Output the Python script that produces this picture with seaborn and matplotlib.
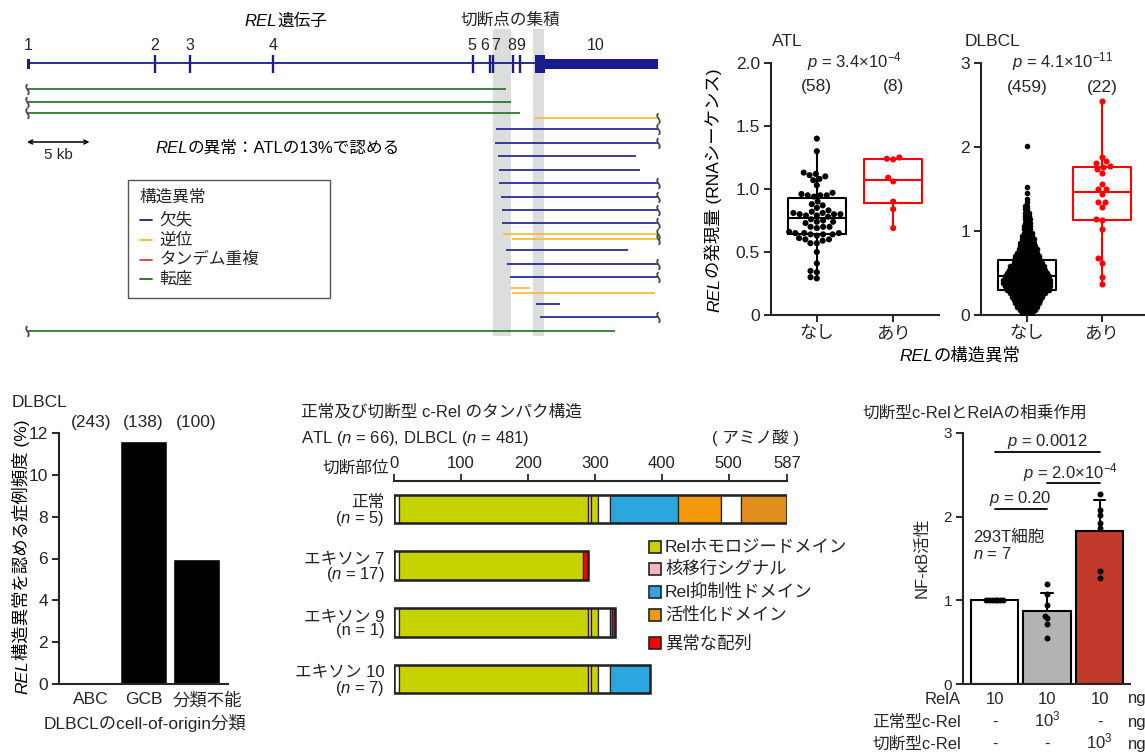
import numpy as np
import pandas as pd
import matplotlib
matplotlib.use("Agg")
import matplotlib.pyplot as plt
from matplotlib.patches import Rectangle
from matplotlib.path import Path
from matplotlib.transforms import offset_copy, blended_transform_factory, ScaledTranslation
import seaborn as sns

# ------------------------------------------------------------------ data
# REL gene model (kb from the start of exon 1)
exon_names = ["1", "2", "3", "4", "5", "6", "7", "8", "9", "10"]
exon_kb = [0.0, 10.2, 13.0, 19.7, 35.7, 37.0, 37.25, 38.9, 39.4, 40.6]
exon_label_kb = [0.1, 10.2, 13.0, 19.7, 35.6, 36.6, 37.5, 38.8, 39.5, 45.5]
exon1_end_kb = 0.25
exon10_cds_end_kb = 41.4
gene_end_kb = 50.5
cluster_kb = [(37.3, 38.75), (40.45, 41.35)]

# structural variants in ATL: lane, type, start/end (kb), open left / right end
sv_lane = [0, 1, 2, 2, 3, 4, 5, 6, 7, 8, 9, 10, 11, 11, 12, 13, 14, 15, 15, 16, 17, 18]
sv_type = ["転座", "転座", "転座", "逆位", "欠失", "欠失", "欠失", "欠失", "欠失", "欠失", "欠失",
           "欠失", "逆位", "逆位", "欠失", "欠失", "欠失", "逆位", "逆位", "欠失", "欠失", "転座"]
sv_start = [0.0, 0.0, 0.0, 40.6, 37.5, 37.4, 37.7, 37.8, 37.8, 37.9, 38.0,
            38.0, 38.1, 38.8, 38.3, 38.4, 38.6, 38.7, 38.8, 40.7, 41.0, 0.0]
sv_end = [38.3, 38.7, 39.4, 50.5, 50.5, 50.5, 48.7, 49.0, 50.5, 50.5, 50.5,
          50.5, 50.5, 50.5, 48.1, 50.5, 50.5, 40.2, 50.2, 42.6, 50.5, 47.0]
sv_open_left = [1, 1, 1, 0, 0, 0, 0, 0, 0, 0, 0, 0, 0, 0, 0, 0, 0, 0, 0, 0, 0, 1]
sv_open_right = [0, 0, 0, 1, 1, 1, 0, 0, 1, 1, 1, 1, 1, 1, 0, 1, 1, 0, 0, 0, 1, 0]
sv_types = ["欠失", "逆位", "タンデム重複", "転座"]

# REL expression (RNA-seq)
atl_none = [1.40, 1.30, 1.13, 1.12, 1.11, 1.10, 1.08, 1.07, 1.03, 0.97, 0.96, 0.95, 0.95, 0.95, 0.94,
            0.90, 0.88, 0.87, 0.85, 0.83, 0.82, 0.81, 0.81, 0.80, 0.80, 0.80, 0.79, 0.79, 0.78,
            0.76, 0.75, 0.74, 0.74, 0.73, 0.70, 0.70, 0.70, 0.69, 0.66, 0.65, 0.65, 0.65, 0.64,
            0.64, 0.64, 0.63, 0.61, 0.60, 0.60, 0.59, 0.57, 0.57, 0.50, 0.41, 0.35, 0.34, 0.30, 0.29]
atl_sv = [1.25, 1.24, 1.235, 1.09, 1.06, 0.90, 0.84, 0.69]
# DLBCL without SV: expression levels and number of cases at each level
dl_none_level = [0.02, 0.06, 0.10, 0.14, 0.18, 0.22, 0.26, 0.30, 0.34, 0.38, 0.42, 0.46, 0.50,
                 0.54, 0.58, 0.62, 0.66, 0.70, 0.74, 0.78, 0.82, 0.86, 0.90, 0.94, 0.98, 1.02,
                 1.06, 1.10, 1.14, 1.18, 1.22, 1.26, 1.30, 1.34, 1.38, 1.45, 1.52, 2.01]
dl_none_count = [7, 10, 13, 15, 17, 19, 22, 26, 28, 29, 29, 27, 25,
                 23, 21, 18, 17, 15, 13, 12, 10, 9, 8, 7, 6, 5,
                 5, 4, 4, 3, 3, 2, 2, 1, 1, 1, 1, 1]
dl_sv = [2.55, 1.885, 1.83, 1.81, 1.77, 1.765, 1.74, 1.69, 1.56, 1.50, 1.50, 1.44, 1.35, 1.34,
         1.28, 1.14, 1.13, 1.02, 0.675, 0.62, 0.45, 0.37]
groups = ["なし", "あり"]
p_atl = r"$p$ = 3.4×10$^{-4}$"
p_dl = r"$p$ = 4.1×10$^{-11}$"

# DLBCL cell-of-origin
coo = ["ABC", "GCB", "分類不能"]
coo_total = [243, 138, 100]
coo_with_sv = [0, 16, 6]

# c-Rel protein domains (amino acids)
normal_bounds = [0, 7, 290, 294, 304, 322, 424, 489, 518, 587]
normal_domain = ["none", "RHD", "NLS", "RHD", "none", "RID", "TAD", "none", "TAD2"]
constructs = ["正常", "エキソン 7", "エキソン 9", "エキソン 10"]
construct_n = ["($n$ = 5)", "($n$ = 17)", "(n = 1)", "($n$ = 7)"]
construct_end = [587, 283, 326, 383]
aberrant_len = [0, 7, 4, 0]

# NF-kB reporter activity in 293T cells
conditions = ["RelA", "RelA+WT", "RelA+trunc"]
nfkb_ctrl = [1.0, 1.0, 1.0, 1.0, 1.0, 1.0, 1.0]
nfkb_wt = [1.20, 1.07, 0.95, 0.81, 0.79, 0.72, 0.55]
nfkb_trunc = [2.27, 2.08, 2.02, 1.92, 1.86, 1.35, 1.27]
rela_ng = [10, 10, 10]
wt_crel_ng = [0, 1000, 0]
trunc_crel_ng = [0, 0, 1000]
nfkb_pvals = [(0, 2, r"$p$ = 0.0012"), (1, 2, r"$p$ = 2.0×10$^{-4}$"), (0, 1, r"$p$ = 0.20")]

# ------------------------------------------------------------------ style
sns.set_style("ticks")
plt.rcParams["font.family"] = ["Liberation Sans", "Noto Sans CJK JP"]
plt.rcParams["mathtext.fontset"] = "custom"
plt.rcParams["mathtext.rm"] = "Liberation Sans"
plt.rcParams["mathtext.it"] = "Liberation Sans:italic"
plt.rcParams["mathtext.bf"] = "Liberation Sans:bold"
plt.rcParams["axes.linewidth"] = 1.4

W, H = 1145, 754
fig = plt.figure(figsize=(W / 100, H / 100), dpi=100)
navy = "#1b1b8c"
sv_colors = {"欠失": navy, "逆位": "#f6b92e", "タンデム重複": "#e8363b", "転座": "#1f6e1f"}


def px_axes(l, t, r, b):
    return fig.add_axes([l / W, 1 - b / H, (r - l) / W, (b - t) / H])


def ftext(x, y, s, size=12, ha="left", va="center", **kw):
    return fig.text(x / W, 1 - y / H, s, size=size, ha=ha, va=va, **kw)


def rich(x, y, pieces, size=12, ha="center", rotation=0, color="black"):
    """Consecutive (text, style) runs on one baseline; (x, y) in figure pixels."""
    r = fig.canvas.get_renderer()
    widths = []
    for s, st in pieces:
        t = fig.text(0, 0, s, size=size, style=st)
        widths.append(t.get_window_extent(r).width)
        t.remove()
    off = {"left": 0.0, "center": -sum(widths) / 2, "right": -sum(widths)}[ha]
    for (s, st), w in zip(pieces, widths):
        dx, dy = (off, 0) if rotation == 0 else (0, off)
        tr = offset_copy(fig.transFigure, fig=fig, x=dx, y=dy, units="dots")
        fig.text(x / W, 1 - y / H, s, size=size, style=st, rotation=rotation,
                 rotation_mode="anchor", ha="left", va="baseline", transform=tr, color=color)
        off += w


def style_axes(ax, labelsize=12.5):
    sns.despine(ax=ax)
    for sp in ("left", "bottom"):
        ax.spines[sp].set_linewidth(1.5)
    ax.tick_params(direction="out", length=5, width=1.4, labelsize=labelsize, pad=3)


packed = []  # swarms laid out with small markers, redrawn larger afterwards


def swarm(ax, df, size, draw_size=None, **kw):
    n0 = len(ax.collections)
    sns.swarmplot(data=df, x="grp", y="val", ax=ax, size=size, linewidth=0, zorder=3,
                  legend=False, **kw)
    if draw_size is not None:
        for c in ax.collections[n0:]:
            packed.append((c, draw_size))


# ------------------------------------------------------------------ A: REL gene
axA = px_axes(0, 0, 680, 345)
axA.set_xlim(-27 / 12.5, (680 - 27) / 12.5)
axA.set_ylim(345, 0)
axA.axis("off")

for a, b in cluster_kb:
    axA.add_patch(Rectangle((a, 29), b - a, 307, facecolor="#dcdedd", lw=0, zorder=0))

axA.plot([0, gene_end_kb], [63, 63], color=navy, lw=1.3, solid_capstyle="butt")
axA.add_patch(Rectangle((exon_kb[0], 59), exon1_end_kb - exon_kb[0], 10, color=navy, lw=0))
for p in exon_kb[1:9]:
    axA.plot([p, p], [55, 73], color=navy, lw=1.7, solid_capstyle="butt")
axA.add_patch(Rectangle((exon_kb[9], 55), exon10_cds_end_kb - exon_kb[9], 18, color=navy, lw=0))
axA.add_patch(Rectangle((exon10_cds_end_kb, 59), gene_end_kb - exon10_cds_end_kb, 10, color=navy, lw=0))
for name, p in zip(exon_names, exon_label_kb):
    axA.text(p, 46, name, ha="center", va="center", size=11.5)

# small vertical S-shaped squiggle marking a partner outside the locus
break_marker = Path([(0, -1), (0.9, -0.35), (-0.9, 0.35), (0, 1)],
                    [Path.MOVETO, Path.CURVE4, Path.CURVE4, Path.CURVE4])
lane_seen = {}
for lane, typ, s, e, ol, orr in zip(sv_lane, sv_type, sv_start, sv_end, sv_open_left, sv_open_right):
    k = lane_seen.get(lane, 0)
    lane_seen[lane] = k + 1
    shared = sv_lane.count(lane) > 1
    y = 89 + lane * 13.44 + ((-2.5 if k == 0 else 2.5) if shared else 0)
    axA.plot([s, e], [y, y], color=sv_colors[typ], lw=1.2, solid_capstyle="butt")
    for flag, xx in ((ol, s), (orr, e)):
        if flag:
            axA.plot([xx], [y], ls="none", marker=break_marker, markersize=7.5,
                     mfc="none", mec="#4a4a4a", mew=1.3)

axA.annotate("", xy=(5, 142), xytext=(0, 142),
             arrowprops=dict(arrowstyle="<->", lw=1.1, color="black",
                             shrinkA=0, shrinkB=0, mutation_scale=7))
axA.text(2.5, 155, "5 kb", ha="center", va="center", size=11)

rich(286, 26, [("REL", "italic"), ("遺伝子", "normal")], size=12)
ftext(510, 20, "切断点の集積", size=12, ha="center")
rich(155, 153, [("REL", "italic"), ("の異常：ATLの13%で認める", "normal")], size=12, ha="left")

# legend of variant types
axA.add_patch(Rectangle(((128 - 27) / 12.5, 180), (330 - 128) / 12.5, 118,
                        fill=False, edgecolor="#555555", lw=1.0))
axA.text((139 - 27) / 12.5, 197, "構造異常", ha="left", va="center", size=12)
for i, typ in enumerate(sv_types):
    y = 220 + i * 19.8
    axA.plot([(140 - 27) / 12.5, (152 - 27) / 12.5], [y, y], color=sv_colors[typ], lw=1.3)
    axA.text((159 - 27) / 12.5, y, typ, ha="left", va="center", size=12)

# ------------------------------------------------------------------ B: expression
pal = {"なし": "black", "あり": "#ff0000"}

axB1 = px_axes(771, 63, 939, 315)
dfa = pd.DataFrame({"grp": ["なし"] * len(atl_none) + ["あり"] * len(atl_sv),
                    "val": atl_none + atl_sv})
sns.boxplot(data=dfa, x="grp", y="val", hue="grp", order=groups, hue_order=groups, palette=pal,
            fill=False, width=0.76, linewidth=1.5, showfliers=False,
            capprops={"linewidth": 0}, legend=False, ax=axB1)
swarm(axB1, dfa, 4.4, order=groups, hue="grp", hue_order=groups, palette=pal)
axB1.set_xlim(-0.6, 1.6)
axB1.set_ylim(0, 2.0)
axB1.set_yticks([0, 0.5, 1.0, 1.5, 2.0], ["0", "0.5", "1.0", "1.5", "2.0"])
axB1.set_xlabel("")
axB1.set_ylabel("")
style_axes(axB1)
axB1.text(0.5, (315 - 62) / 126, p_atl, ha="center", va="center", size=12)
for i, d in enumerate([atl_none, atl_sv]):
    axB1.text(i, 1.81, f"({len(d)})", ha="center", va="center", size=12.5)
ftext(772, 42, "ATL", size=12.5)

axB2 = px_axes(981, 63, 1145, 315)
dl_none = list(np.repeat(dl_none_level, dl_none_count))
dfd = pd.DataFrame({"grp": ["なし"] * len(dl_none) + ["あり"] * len(dl_sv),
                    "val": dl_none + dl_sv})
sns.boxplot(data=dfd, x="grp", y="val", hue="grp", order=groups, hue_order=groups, palette=pal,
            fill=False, width=0.77, linewidth=1.5, showfliers=False,
            capprops={"linewidth": 0}, legend=False, ax=axB2)
swarm(axB2, dfd[dfd.grp == "なし"], 1.15, draw_size=4.0, order=groups, color="black")
swarm(axB2, dfd[dfd.grp == "あり"], 4.4, order=groups, color="#ff0000")
axB2.set_xlim(-0.613, 1.574)
axB2.set_ylim(0, 3)
axB2.set_yticks([0, 1, 2, 3])
axB2.set_xlabel("")
axB2.set_ylabel("")
style_axes(axB2)
axB2.text(0.48, (315 - 62) / 84, p_dl, ha="center", va="center", size=12)
for i, d in enumerate([dl_none, dl_sv]):
    axB2.text(i, 2.71, f"({len(d)})", ha="center", va="center", size=12.5)
ftext(965, 42, "DLBCL", size=12.5)

rich(719, 190, [("REL", "italic"), ("の発現量 (RNAシーケンス)", "normal")], size=12.5, rotation=90)
rich(960, 361, [("REL", "italic"), ("の構造異常", "normal")], size=12.5)

# ------------------------------------------------------------------ C: cell of origin
axC = px_axes(59, 433, 228, 684)
pct = [100 * k / n for k, n in zip(coo_with_sv, coo_total)]
sns.barplot(x=coo, y=pct, color="black", saturation=1, width=0.89, errorbar=None, ax=axC)
axC.set_xlim(-0.6, 2.6)
axC.set_ylim(0, 12)
axC.set_yticks(range(0, 13, 2))
style_axes(axC)
axC.tick_params(axis="x", length=0, pad=6)
lab = axC.get_xticklabels()[2]
lab.set_transform(lab.get_transform() + ScaledTranslation(0.11, 0, fig.dpi_scale_trans))
btC = blended_transform_factory(axC.transData, fig.transFigure)
for i, n in enumerate(coo_total):
    axC.text(i, 1 - 423 / H, f"({n})", transform=btC, ha="center", va="center", size=12.5)
ftext(12, 403, "DLBCL", size=12.5)
rich(27, 557, [("REL", "italic"), ("構造異常を認める症例頻度 (%)", "normal")], size=12.5, rotation=90)
ftext(145, 723, "DLBCLのcell-of-origin分類", size=12.5, ha="center")

# ------------------------------------------------------------------ D: protein structure
dom_color = {"none": "white", "RHD": "#c6d300", "NLS": "#f6b5c0", "RID": "#2ca6de",
             "TAD": "#f39a0c", "TAD2": "#e18e1f", "ABN": "#ff0000"}
axD = px_axes(394, 481, 787, 700)
bar_h = 0.51
for i, (end, ab) in enumerate(zip(construct_end, aberrant_len)):
    for s, e, dom in zip(normal_bounds[:-1], normal_bounds[1:], normal_domain):
        if s >= end:
            break
        axD.barh(i, min(e, end) - s, left=s, height=bar_h, color=dom_color[dom],
                 edgecolor="#222222", linewidth=0.9)
    if ab:
        axD.barh(i, ab, left=end, height=bar_h, color=dom_color["ABN"],
                 edgecolor="#222222", linewidth=0.9)
    axD.barh(i, end + ab, left=0, height=bar_h, fill=False, edgecolor="#222222", linewidth=1.8)
axD.set_xlim(0, 587)
axD.set_ylim(3.37, -0.494)
axD.xaxis.tick_top()
axD.set_xticks([0, 100, 200, 300, 400, 500, 587])
axD.set_yticks(range(len(constructs)),
               [f"{c}\n{n}" for c, n in zip(constructs, construct_n)])
for sp in ("left", "right", "bottom"):
    axD.spines[sp].set_visible(False)
axD.spines["top"].set_linewidth(1.5)
axD.tick_params(axis="x", direction="out", length=5, width=1.3, labelsize=12, pad=2,
                labelcolor="#222222")
axD.tick_params(axis="y", length=0, labelsize=12, pad=7, labelcolor="#222222")
for t in axD.get_yticklabels():
    t.set_linespacing(0.95)

ftext(301, 412, "正常及び切断型 c-Rel のタンパク構造", size=12, color="#222222")
ftext(301, 438, r"ATL ($n$ = 66), DLBCL ($n$ = 481)", size=12, color="#222222")
ftext(712, 438, "( アミノ酸 )", size=12, color="#222222")
ftext(389, 468, "切断部位", size=12, ha="right", color="#222222")

legend_items = [("RHD", "Relホモロジードメイン", 547), ("NLS", "核移行シグナル", 569),
                ("RID", "Rel抑制性ドメイン", 592), ("TAD", "活性化ドメイン", 615),
                ("ABN", "異常な配列", 643)]
for dom, text, y in legend_items:
    fig.add_artist(Rectangle((649 / W, 1 - (y + 6) / H), 12 / W, 12 / H, transform=fig.transFigure,
                             facecolor=dom_color[dom], edgecolor="#222222", lw=1.2))
    ftext(665, y, text, size=12.5, color="#222222")

# ------------------------------------------------------------------ E: NF-kB activity
axE = px_axes(963, 433, 1130, 684)
dfe = pd.DataFrame({"grp": np.repeat(conditions, 7),
                    "val": nfkb_ctrl + nfkb_wt + nfkb_trunc})
sns.barplot(data=dfe, x="grp", y="val", hue="grp", order=conditions, hue_order=conditions,
            palette=["#ffffff", "#b3b3b3", "#c0392b"], saturation=1, errorbar="sd",
            capsize=0.22, err_kws={"color": "black", "linewidth": 1.5, "zorder": 0.9},
            edgecolor="black", linewidth=1.5, width=0.9, legend=False, ax=axE)
swarm(axE, dfe, 1.9, draw_size=4.3, order=conditions, color="black")
axE.set_xlim(-0.6, 2.58)
axE.set_ylim(0, 3)
axE.set_yticks([0, 1, 2, 3])
axE.set_xticks([])
axE.set_xlabel("")
axE.set_ylabel("")
style_axes(axE, labelsize=11)
for (i, j, txt), ly, tx, ty in zip(nfkb_pvals, [2.77, 2.40, 2.09], [1.0, 1.45, 0.48], [2.90, 2.53, 2.22]):
    axE.plot([i, j], [ly, ly], color="black", lw=1.3, clip_on=False)
    axE.text(tx, ty, txt, ha="center", va="center", size=12)
ftext(973, 537, "293T細胞", size=12)
ftext(973, 554, r"$n$ = 7", size=12)
ftext(922, 558, "NF-κB活性", size=12, ha="center", rotation=90)
ftext(863, 413, "切断型c-RelとRelAの相乗作用", size=12)

btE = blended_transform_factory(axE.transData, fig.transFigure)


def ng(v):
    return "-" if v == 0 else (f"10$^{{{int(np.log10(v))}}}$" if v >= 1000 else f"{v}")


for row_label, vals, y in (("RelA", rela_ng, 699), ("正常型c-Rel", wt_crel_ng, 722),
                           ("切断型c-Rel", trunc_crel_ng, 744)):
    yb = y + 4.5
    ftext(961, yb, row_label, size=12, ha="right", va="baseline")
    for i, v in enumerate(vals):
        axE.text(i, 1 - yb / H, ng(v), transform=btE, ha="center", va="baseline", size=12)
    ftext(1137, yb, "ng", size=12, ha="center", va="baseline")

# ------------------------------------------------------------------ finish
fig.canvas.draw()
for coll, sz in packed:
    coll.__dict__.pop("draw", None)
    coll.set_sizes([sz ** 2])

fig.savefig("out.png", dpi=100)
